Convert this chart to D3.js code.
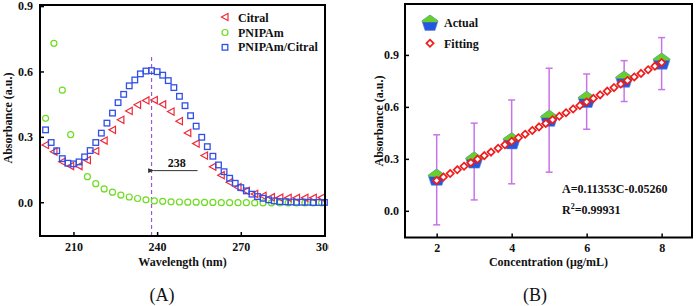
<!DOCTYPE html>
<html lang="en">
<head>
<meta charset="utf-8">
<script src="https://d3js.org/d3.v7.min.js"></script>
<style>
  body { margin: 0; background: #fff; }
  svg { display: block; font-family: "Liberation Serif", "Times New Roman", serif; }
  .tick text { font-family: "Liberation Serif", "Times New Roman", serif; font-size: 12px; font-weight: bold; fill: #111; }
  .tick line { stroke: #000; stroke-width: 1.5; }
  .lbl { font-family: "Liberation Serif", "Times New Roman", serif; font-size: 12px; font-weight: bold; fill: #111; }
</style>
</head>
<body>
<svg width="697" height="306"></svg>
<script>
// ---- panel A data (UV-vis spectra) ----
var blueWl = [200,202,204,206,208,210,212,214,216,218,220,222,224,226,228,230,232,234,236,238,240,242,244,246,248,250,252,254,256,258,260,262,264,266,268,270,272,274,276,278,280,282,284,286,288,290,292,294,296,298,300];
var blueAbs = [0.332,0.274,0.236,0.200,0.179,0.176,0.185,0.208,0.237,0.274,0.317,0.363,0.409,0.457,0.495,0.534,0.561,0.589,0.602,0.604,0.599,0.583,0.558,0.526,0.486,0.443,0.397,0.349,0.298,0.255,0.211,0.171,0.140,0.110,0.087,0.067,0.052,0.037,0.026,0.018,0.011,0.006,0.003,0.002,0.001,0.000,0.000,0.000,-0.001,-0.001,-0.001];
var redWl = [200,203,206,209,212,215,218,221,224,227,230,233,236,239,242,245,248,251,254,257,260,263,266,269,272,275,278,281,284,287,290,293,296,299];
var redAbs = [0.263,0.232,0.186,0.166,0.166,0.193,0.235,0.283,0.332,0.378,0.419,0.447,0.467,0.469,0.449,0.416,0.372,0.318,0.269,0.214,0.163,0.124,0.092,0.069,0.052,0.038,0.029,0.023,0.021,0.020,0.020,0.020,0.020,0.021];
var greenWl = [200,203,206,209,215,218,221,224,227,230,233,236,239,242,245,248,251,254,257,260,263,266,269,272,275,278,281,284,287,290,293,296,299];
var greenAbs = [0.385,0.729,0.514,0.310,0.117,0.085,0.061,0.046,0.033,0.024,0.017,0.011,0.006,0.004,0.002,0.001,0.000,0.000,-0.001,-0.001,-0.002,-0.002,-0.002,-0.002,-0.003,-0.003,-0.003,-0.003,-0.003,-0.003,-0.003,-0.003,-0.003];
var peakWl = 238;
var seriesA = ["Citral", "PNIPAm", "PNIPAm/Citral"];

// ---- panel B data (calibration) ----
var conc = [2,3,4,5,6,7,8];
var actual = [0.185,0.284,0.395,0.525,0.634,0.751,0.855];
var errLow = [-0.081,0.063,0.156,0.223,0.471,0.631,0.700];
var errHigh = [0.439,0.506,0.640,0.823,0.790,0.867,1.000];
var fitC = [2.00,2.18,2.36,2.55,2.73,2.91,3.09,3.27,3.45,3.64,3.82,4.00,4.18,4.36,4.55,4.73,4.91,5.09,5.27,5.45,5.64,5.82,6.00,6.18,6.36,6.55,6.73,6.91,7.09,7.27,7.45,7.64,7.82,8.00];
var fitA = [0.1745,0.1949,0.2153,0.2369,0.2573,0.2778,0.2982,0.3186,0.3391,0.3606,0.3811,0.4015,0.4219,0.4424,0.4640,0.4844,0.5048,0.5253,0.5457,0.5661,0.5877,0.6081,0.6286,0.6490,0.6695,0.6910,0.7115,0.7319,0.7523,0.7728,0.7932,0.8148,0.8352,0.8556];

var RED = "#ee2b3b", GREEN = "#6ddc1f", BLUE = "#2f4fe6";
var svg = d3.select("svg");
svg.append("rect").attr("width", 697).attr("height", 306).attr("fill", "#fff");

var defs = svg.append("defs");
defs.append("clipPath").attr("id", "clipA").append("rect").attr("x", 0).attr("y", 0).attr("width", 328.5).attr("height", 306);
defs.append("marker").attr("id", "arr").attr("viewBox", "0 0 10 10").attr("refX", 1).attr("refY", 5)
  .attr("markerWidth", 7).attr("markerHeight", 6).attr("orient", "auto")
  .append("path").attr("d", "M10,1L0,5L10,9Z").attr("fill", "#333");

// marker shape helpers
function tri(g, x, y) {
  g.append("path").attr("transform", "translate(" + x + "," + y + ")")
    .attr("d", "M-3.6,0L3,-3.6L3,3.6Z").attr("fill", "none").attr("stroke", RED).attr("stroke-width", 1.2);
}
function sq(g, x, y) {
  g.append("rect").attr("x", x - 2.8).attr("y", y - 2.8).attr("width", 5.6).attr("height", 5.6)
    .attr("fill", "none").attr("stroke", BLUE).attr("stroke-width", 1.3);
}
function circ(g, x, y) {
  g.append("circle").attr("cx", x).attr("cy", y).attr("r", 3).attr("fill", "none").attr("stroke", GREEN).attr("stroke-width", 1.2);
}
function pentagon(g, x, y, r) {
  var pts = d3.range(5).map(function (i) {
    var a = -Math.PI / 2 + i * 2 * Math.PI / 5;
    return [r * Math.cos(a), r * Math.sin(a)];
  });
  var cut = -0.15 * r;
  // point on lower edges at the cut level
  function onEdge(p, q) { var t = (cut - p[1]) / (q[1] - p[1]); return [p[0] + t * (q[0] - p[0]), cut]; }
  var top = [pts[0], pts[1], onEdge(pts[1], pts[2]), onEdge(pts[4], pts[3]), pts[4]];
  var gg = g.append("g").attr("transform", "translate(" + x + "," + y + ")");
  gg.append("polygon").attr("points", pts.join(" ")).attr("fill", "#2456e0").attr("stroke", "#5a86d8").attr("stroke-width", 0.6);
  gg.append("polygon").attr("points", top.join(" ")).attr("fill", "#66cf2c");
}
function diamond(g, x, y) {
  g.append("path").attr("transform", "translate(" + x + "," + y + ")")
    .attr("d", "M0,-3.6L3.6,0L0,3.6L-3.6,0Z").attr("fill", "#fff").attr("stroke", "#f01c1c").attr("stroke-width", 1.7);
}

// ================= Panel A =================
var gA = svg.append("g").attr("clip-path", "url(#clipA)");
var xA = d3.scaleLinear().domain([198, 300.2]).range([40, 325]);
var yA = d3.scaleLinear().domain([-0.155, 0.905]).range([236, 5]);

gA.append("g").attr("transform", "translate(0,236)")
  .call(d3.axisBottom(xA).tickValues([210, 240, 270, 300]).tickSize(-4).tickPadding(6).tickFormat(d3.format("d")))
  .call(function (g) { g.select(".domain").remove(); });
gA.append("g").attr("transform", "translate(40,0)")
  .call(d3.axisLeft(yA).tickValues([0, 0.3, 0.6, 0.9]).tickSize(-4).tickPadding(7).tickFormat(d3.format(".1f")))
  .call(function (g) { g.select(".domain").remove(); });

// dashed peak line
gA.append("line").attr("x1", xA(peakWl)).attr("x2", xA(peakWl)).attr("y1", 57).attr("y2", 236)
  .attr("stroke", "#9a5ad6").attr("stroke-width", 1.2).attr("stroke-dasharray", "4,3");
// arrow + label
gA.append("line").attr("x1", xA(254.5)).attr("x2", xA(238.7)).attr("y1", yA(0.145)).attr("y2", yA(0.145))
  .attr("stroke", "#333").attr("stroke-width", 1).attr("marker-end", "url(#arr)");
gA.append("text").attr("class", "lbl").attr("x", xA(247)).attr("y", yA(0.145) - 4).attr("text-anchor", "middle").text(String(peakWl));

var mA = gA.append("g");
greenWl.forEach(function (w, i) { circ(mA, xA(w), yA(greenAbs[i])); });
redWl.forEach(function (w, i) { tri(mA, xA(w), yA(redAbs[i])); });
blueWl.forEach(function (w, i) { sq(mA, xA(w), yA(blueAbs[i])); });

// legend A
var legA = gA.append("g");
tri(legA, 225, 17); circ(legA, 225, 32.5); sq(legA, 225, 47.3);
[21.5, 36.5, 51.3].forEach(function (y, i) {
  legA.append("text").attr("class", "lbl").attr("x", 238).attr("y", y).text(seriesA[i]);
});

gA.append("rect").attr("x", 40).attr("y", 5).attr("width", 285).attr("height", 231)
  .attr("fill", "none").attr("stroke", "#000").attr("stroke-width", 2);

gA.append("text").attr("class", "lbl").attr("x", 182.5).attr("y", 266).attr("text-anchor", "middle").text("Wavelength (nm)");
gA.append("text").attr("class", "lbl").attr("transform", "translate(12,118) rotate(-90)").attr("text-anchor", "middle").text("Absorbance (a.u.)");
svg.append("text").attr("x", 162).attr("y", 301).attr("text-anchor", "middle").attr("font-size", 18).attr("fill", "#111").text("(A)");

// ================= Panel B =================
var gB = svg.append("g");
var xB = d3.scaleLinear().domain([1.155, 8.81]).range([405, 692]);
var yB = d3.scaleLinear().domain([-0.154, 1.194]).range([237.5, 4]);

gB.append("g").attr("transform", "translate(0,237.5)")
  .call(d3.axisBottom(xB).tickValues([2, 4, 6, 8]).tickSize(-4).tickPadding(6).tickFormat(d3.format("d")))
  .call(function (g) { g.select(".domain").remove(); });
gB.append("g").attr("transform", "translate(405,0)")
  .call(d3.axisLeft(yB).tickValues([0, 0.3, 0.6, 0.9]).tickSize(-4).tickPadding(6).tickFormat(d3.format(".1f")))
  .call(function (g) { g.select(".domain").remove(); });

// error bars
var eb = gB.append("g").attr("stroke", "#c873ea").attr("stroke-width", 1.5);
conc.forEach(function (c, i) {
  var x = xB(c);
  eb.append("line").attr("x1", x).attr("x2", x).attr("y1", yB(errLow[i])).attr("y2", yB(errHigh[i]));
  eb.append("line").attr("x1", x - 3.5).attr("x2", x + 3.5).attr("y1", yB(errLow[i])).attr("y2", yB(errLow[i]));
  eb.append("line").attr("x1", x - 3.5).attr("x2", x + 3.5).attr("y1", yB(errHigh[i])).attr("y2", yB(errHigh[i]));
});
var mB = gB.append("g");
conc.forEach(function (c, i) { pentagon(mB, xB(c), yB(actual[i]) - 0.8, 9); });
fitC.forEach(function (c, i) { diamond(mB, xB(c), yB(fitA[i])); });

// legend B
pentagon(gB, 430, 23.5, 8.5);
diamond(gB, 430, 43.3);
gB.append("text").attr("class", "lbl").attr("x", 444).attr("y", 27).text("Actual");
gB.append("text").attr("class", "lbl").attr("x", 444).attr("y", 47.5).text("Fitting");

gB.append("text").attr("class", "lbl").attr("x", 562).attr("y", 193).text("A=0.11353C-0.05260");
var r2 = gB.append("text").attr("class", "lbl").attr("x", 562).attr("y", 213.5);
r2.append("tspan").text("R");
r2.append("tspan").attr("font-size", 8).attr("dy", -5).text("2");
r2.append("tspan").attr("dy", 5).text("=0.99931");

gB.append("rect").attr("x", 405).attr("y", 4).attr("width", 287).attr("height", 233.5)
  .attr("fill", "none").attr("stroke", "#000").attr("stroke-width", 2);

gB.append("text").attr("class", "lbl").attr("x", 548.5).attr("y", 266).attr("text-anchor", "middle").text("Concentration (\u03bcg/mL)");
gB.append("text").attr("class", "lbl").attr("transform", "translate(383,121) rotate(-90)").attr("text-anchor", "middle").text("Absorbance (a.u.)");
svg.append("text").attr("x", 535).attr("y", 301).attr("text-anchor", "middle").attr("font-size", 18).attr("fill", "#111").text("(B)");
</script>
</body>
</html>
